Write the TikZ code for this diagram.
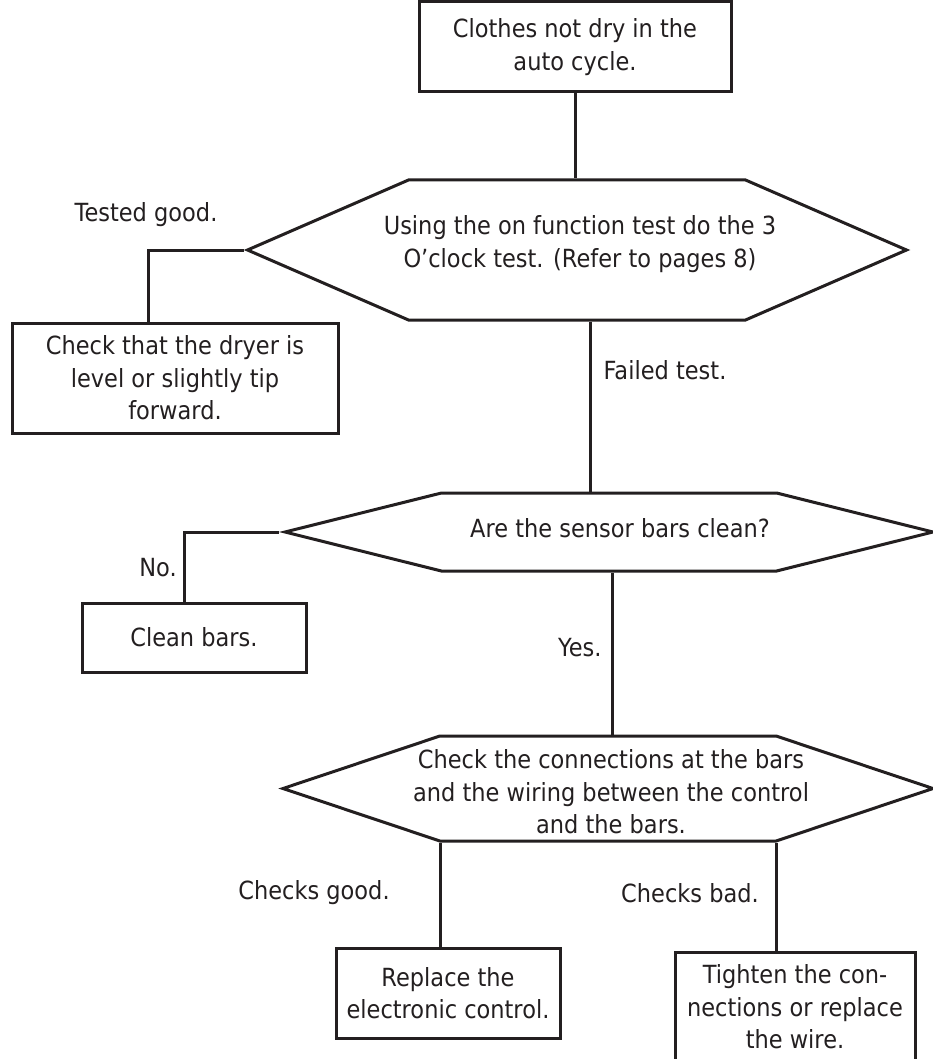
\documentclass[tikz,border=0pt]{standalone}
\usepackage{fontspec}
\setmainfont{DejaVu Sans}[FakeStretch=0.9]
\usetikzlibrary{positioning,shapes.symbols}
\definecolor{inkgray}{RGB}{35,31,32}

\begin{document}
\begin{tikzpicture}[x=1pt,y=-1pt,font=\fontsize{25}{32.5}\selectfont,
          color=inkgray,line width=3pt,
          box/.style ={draw,align=center,inner sep=0pt},
          hexa/.style={draw,shape=signal,signal to=west and east,signal from=nowhere,inner sep=0pt},
          lbl/.style ={align=center,inner sep=0pt}]
        \useasboundingbox (0,0) rectangle (933,1059);
        \node[box,minimum width=312pt,minimum height=90pt] (start) at (575,47) {Clothes not dry in the\\auto cycle.};
        \node[hexa,signal pointer angle=47,minimum width=659pt,minimum height=140pt] (q1) at (577,250) {};
        \node[lbl] (q1txt) at (580,244) {Using the on function test do the 3\\O’clock test. (Refer to pages 8)};
        \node[box,minimum width=326pt,minimum height=110pt] (level) at (175,378)
             {Check that the dryer is\\level or slightly tip\\forward.};
        \node[hexa,signal pointer angle=28,minimum width=648pt,minimum height=78pt] (q2) at (609,532) {};
        \node[lbl] (q2txt) at (620,528) {Are the sensor bars clean?};
        \node[box,minimum width=224pt,minimum height=69pt] (clean) at (194,637.5) {Clean bars.};
        \node[hexa,signal pointer angle=37,minimum width=650pt,minimum height=105pt] (q3) at (608,788.5) {};
        \node[lbl] (q3txt) at (611,792) {Check the connections at the bars\\and the wiring between the control\\and the bars.};
        \node[box,minimum width=224pt,minimum height=90pt] (ctrl) at (448,993) {Replace the\\electronic control.};
        \node[box,minimum width=240pt,minimum height=110pt] (wire) at (795,1007)
             {Tighten the con-\\nections or replace\\the wire.};
        % labels
        \node[lbl] (tgood) at (146,215) {Tested good.};
        \node[lbl] (fail) at (665,370) {Failed test.};
        \node[lbl] (no) at (158,568) {No.};
        \node[lbl,anchor=east] (yes) at (603,648) {Yes.};
        \node[lbl] (cgood) at (314,893) {Checks good.};
        \node[lbl] (cbad) at (690,893) {Checks bad.};
        % connectors
        \draw (start.south) -- (start.south |- q1.north);
        \draw (q1.west) -| ([xshift=-27pt]level.north);
        \draw ([xshift=13pt]q1.south) -- ([xshift=13pt]q1.south |- q2.north);
        \draw (q2.west) -| ([xshift=-10pt]clean.north);
        \draw ([xshift=3pt]q2.south) -- ([xshift=3pt]q2.south |- q3.north);
        \draw ([xshift=-8pt]ctrl.north) -- ([xshift=-8pt]ctrl.north |- q3.south);
        \draw ([xshift=-19pt]wire.north) -- ([xshift=-19pt]wire.north |- q3.south);
      \end{tikzpicture}
\end{document}
